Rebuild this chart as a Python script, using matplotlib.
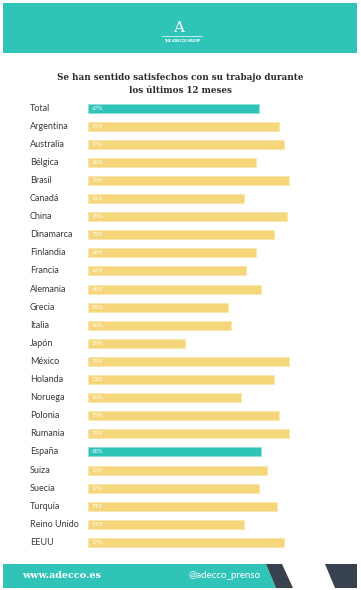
import matplotlib.pyplot as plt
from matplotlib.patches import Rectangle, Polygon
from matplotlib.lines import Line2D
import matplotlib.transforms as mtransforms

countries = ['Total', 'Argentina', 'Australia', 'Bélgica', 'Brasil', 'Canadá', 'China',
             'Dinamarca', 'Finlandia', 'Francia', 'Alemania', 'Grecia', 'Italia', 'Japón',
             'México', 'Holanda', 'Noruega', 'Polonia', 'Rumania', 'España', 'Suiza',
             'Suecia', 'Turquía', 'Reino Unido', 'EEUU']
values = [67, 75, 77, 66, 79, 61, 78, 73, 66, 62, 68, 55, 56, 38,
          79, 73, 60, 75, 79, 68, 70, 67, 74, 61, 77]
highlight = ['Total', 'España']

W, H = 361, 590
teal = '#30c4b9'
yellow = '#f5d67b'
dark = '#37424e'
text_col = '#3a3a3a'

fig = plt.figure(figsize=(W / 100, H / 100), dpi=100)
fig.patch.set_facecolor('white')

def fx(px):
    return px / W

def fy(py):
    return 1 - py / H

# header band + logo
fig.patches.append(Rectangle((fx(3), fy(53)), fx(354), 50 / H, transform=fig.transFigure,
                             facecolor=teal, edgecolor='none'))
fig.text(fx(179), fy(28), 'A', color='white', fontsize=11, family='DejaVu Serif',
         ha='center', va='center')
fig.lines.append(Line2D([fx(162), fx(202)], [fy(35.5), fy(35.5)], transform=fig.transFigure,
                        color='white', lw=0.5))
fig.text(fx(182), fy(41), 'THE ADECCO GROUP', color='white', fontsize=2.3, fontweight='bold',
         ha='center', va='center')

# title
for txt, py in [('Se han sentido satisfechos con su trabajo durante', 77),
                ('los últimos 12 meses', 90.5)]:
    fig.text(fx(180), fy(py), txt, fontsize=6.35, fontweight='bold', family='DejaVu Serif',
             color='#2b2b2b', ha='center', va='center')

# bars
ax = fig.add_axes([fx(88), 1 - 551.5 / H, 255 / W, 452.5 / H])
ax.set_xlim(0, 100)
ax.set_ylim(len(countries) - 0.5, -0.5)
ax.axis('off')

colors = [teal if c in highlight else yellow for c in countries]
edges = ['#8fe0da' if c in highlight else '#fbe7ad' for c in countries]
ax.barh(range(len(countries)), values, height=0.5, color=colors, edgecolor=edges, linewidth=0.6)

trans = mtransforms.blended_transform_factory(fig.transFigure, ax.transData)
for i, (c, v) in enumerate(zip(countries, values)):
    ax.text(fx(30), i, c, transform=trans, fontsize=6.5, family='Lato', color=text_col,
            ha='left', va='center')
    ax.text(1.3, i, f'{v}%', fontsize=4.2, family='Lato', color='white',
            ha='left', va='center')

# footer
fig.patches.append(Polygon([(fx(3), fy(564)), (fx(266), fy(564)), (fx(276), fy(588)), (fx(3), fy(588))],
                           closed=True, transform=fig.transFigure, facecolor=teal, edgecolor='none'))
fig.patches.append(Polygon([(fx(266), fy(564)), (fx(282), fy(564)), (fx(293), fy(588)), (fx(276), fy(588))],
                           closed=True, transform=fig.transFigure, facecolor=dark, edgecolor='none'))
fig.patches.append(Polygon([(fx(325), fy(564)), (fx(357), fy(564)), (fx(357), fy(588)), (fx(335), fy(588))],
                           closed=True, transform=fig.transFigure, facecolor=dark, edgecolor='none'))
fig.text(fx(22), fy(576), 'www.adecco.es', color='white', fontsize=6.9, fontweight='bold',
         family='DejaVu Serif', ha='left', va='center')
fig.text(fx(261), fy(576), '@adecco_prenso', color='white', fontsize=7,
         family='Lato', ha='right', va='center')

fig.savefig('out.png', dpi=100, facecolor='white')
